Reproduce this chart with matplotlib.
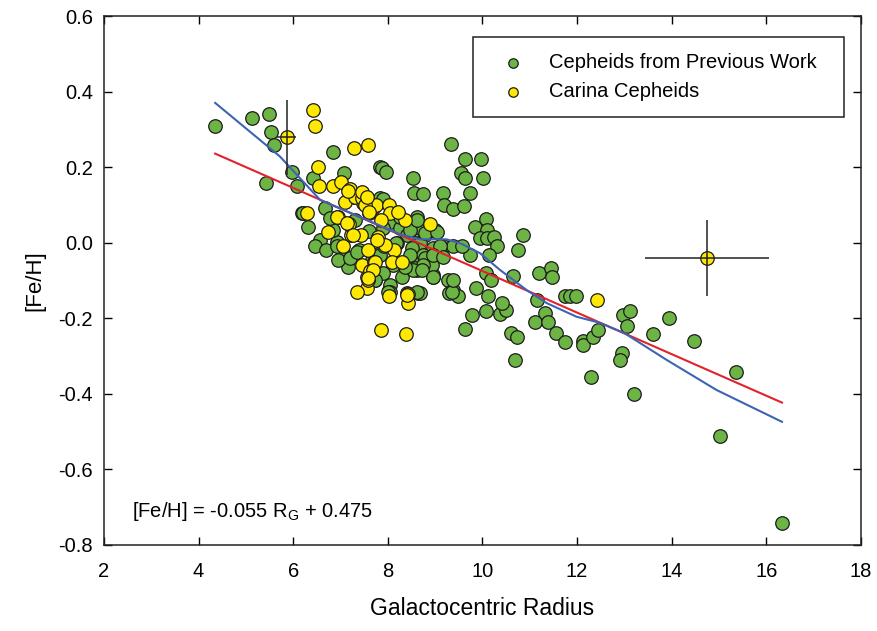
import matplotlib
matplotlib.use("Agg")
import matplotlib.pyplot as plt
from matplotlib.patches import Rectangle
import numpy as np

plt.rcParams['font.family'] = ['Liberation Sans', 'DejaVu Sans']

# Cepheids from previous work (green)
prev_x = [4.35, 5.13, 5.49, 5.52, 5.60, 5.42, 5.97, 6.07, 6.83, 7.07, 6.42, 6.18, 6.32, 6.67, 6.57, 6.45, 6.69,
          7.83, 7.87, 7.95,
          7.18, 7.71, 8.02, 8.64, 8.95, 8.92, 8.82, 9.28, 9.30, 9.17, 8.99,
          6.92, 6.83, 7.06, 7.83, 7.69, 8.05, 8.26, 8.61, 8.50, 8.64, 8.79, 8.40, 8.68, 8.50, 8.96, 9.38, 8.75,
          8.50, 8.43, 8.61, 8.96, 8.05, 7.73, 7.16, 6.95, 9.38, 8.05, 8.40, 8.68, 8.61, 8.57, 8.47, 8.79, 8.93,
          7.30, 7.60, 7.90, 8.20, 7.40, 8.10, 7.80, 8.30, 7.90,
          8.54, 8.56, 8.75, 9.16, 9.19, 9.33, 9.63, 9.97, 9.54, 9.62, 10.02, 9.74, 9.37, 9.61,
          10.07, 9.84, 10.09, 9.95, 10.10, 10.24, 10.31, 10.14, 9.74, 9.56,
          10.86, 10.76, 10.65, 11.20, 11.44, 11.46, 11.74, 11.85, 11.97, 11.16, 11.32, 11.11, 11.38,
          11.55, 11.74, 12.12, 12.13, 12.34, 12.45, 12.96, 13.12, 13.06, 12.95, 12.91, 13.95, 13.61, 14.46,
          12.29, 10.68, 10.61, 10.72, 9.63, 9.77, 10.07, 10.36, 10.50, 10.41, 9.86, 10.12, 9.49, 9.35, 9.38,
          10.07, 10.19, 13.21, 15.36, 15.03, 16.33,
          6.21, 6.78, 7.20, 7.34, 7.66, 7.83, 8.18, 8.47, 8.61, 8.79, 9.03, 9.10, 8.96, 8.75, 8.54, 8.36,
          8.72, 8.96, 9.17, 7.90, 8.26, 8.61, 8.01, 7.73, 6.92]
prev_y = [0.31, 0.33, 0.34, 0.292, 0.259, 0.159, 0.188, 0.150, 0.241, 0.184, 0.171, 0.079, 0.042, 0.092, 0.007, -0.01, -0.019,
          0.201, 0.197, 0.188,
          -0.04, -0.099, -0.125, -0.132, -0.09, -0.059, -0.063, -0.099, -0.134, -0.01, 0.034,
          0.003, 0.034, -0.028, 0.118, 0.091, 0.055, 0.038, 0.069, 0.047, 0.034, 0.021, 0.021, -0.002, -0.015, -0.015, -0.01, -0.032,
          -0.05, -0.068, -0.072, -0.085, -0.112, -0.099, -0.063, -0.046, -0.125, -0.13, -0.134, -0.134, 0.042, -0.068, -0.032, -0.041, -0.059,
          0.06, 0.03, 0.04, 0.0, -0.02, -0.06, -0.03, -0.09, -0.08,
          0.17, 0.131, 0.129, 0.131, 0.10, 0.26, 0.221, 0.221, 0.184, 0.171, 0.171, 0.131, 0.089, 0.098,
          0.062, 0.041, 0.034, 0.012, 0.012, 0.014, -0.008, -0.032, -0.032, -0.008,
          0.021, -0.019, -0.088, -0.081, -0.068, -0.091, -0.14, -0.14, -0.14, -0.152, -0.187, -0.209, -0.209,
          -0.24, -0.262, -0.26, -0.272, -0.25, -0.231, -0.191, -0.18, -0.22, -0.291, -0.31, -0.20, -0.241, -0.26,
          -0.356, -0.31, -0.24, -0.25, -0.229, -0.19, -0.18, -0.189, -0.178, -0.159, -0.12, -0.14, -0.14, -0.13, -0.10,
          -0.079, -0.10, -0.40, -0.341, -0.511, -0.741,
          0.079, 0.065, -0.041, -0.024, -0.046, -0.032, 0.0, 0.034, 0.06, 0.025, 0.029, -0.01, -0.032, -0.059, -0.072, -0.063,
          -0.072, -0.09, -0.037, 0.115, 0.069, -0.13, -0.13, -0.099, -0.01]

# Carina Cepheids (yellow)
carina_x = [6.42, 6.45, 7.29, 7.59, 6.53, 6.55, 6.83, 7.01, 6.30, 6.74,
            7.20, 7.28, 7.09, 7.48, 7.60, 7.74, 8.03, 8.05, 7.85, 8.36, 8.88, 7.06, 7.43, 7.22, 7.57, 7.45,
            7.71, 7.92, 8.14, 8.09, 8.29, 7.55, 7.55, 7.35, 8.03, 8.42, 8.43, 7.86, 8.38,
            7.31, 7.45, 7.52, 7.61, 8.22, 6.95, 7.18, 7.80, 7.94, 7.73, 7.62, 7.57, 12.41, 7.45, 7.55,
            7.16, 6.92, 7.13, 7.27, 7.76, 7.69, 7.59, 8.40]
carina_y = [0.35, 0.31, 0.25, 0.259, 0.20, 0.15, 0.15, 0.162, 0.079, 0.029,
            0.141, 0.120, 0.109, 0.104, 0.079, 0.10, 0.10, 0.079, 0.06, 0.06, 0.05, -0.008, 0.021, 0.021, -0.019, -0.059,
            -0.05, -0.008, -0.019, -0.05, -0.05, -0.09, -0.12, -0.131, -0.14, -0.136, -0.16, -0.231, -0.242,
            0.122, 0.118, 0.10, 0.081, 0.081, 0.069, 0.049, 0.014, -0.006, -0.05, -0.075, -0.099, -0.152, 0.135, 0.122,
            0.138, 0.069, 0.051, 0.021, 0.007, -0.072, -0.094, -0.138]

# Carina Cepheids with error bars
err_x = [5.86, 14.75]
err_y = [0.279, -0.041]
err_dx = [0.2, 1.31]
err_dy = [0.1, 0.1]

# smooth trend (blue)
trend_x = [4.35, 5.72, 6.57, 7.47, 8.26, 8.68, 9.24, 9.56, 9.95, 10.37, 10.93, 11.36, 11.99, 12.48, 13.01, 13.89, 14.95, 16.33]
trend_y = [0.37, 0.228, 0.113, 0.065, 0.022, 0.009, 0.009, -0.003, -0.028, -0.072, -0.125, -0.16, -0.196, -0.212, -0.24, -0.31, -0.39, -0.474]

# linear fit (red)
fit_slope = -0.055
fit_intercept = 0.475
fit_range = [4.35, 16.33]

x_ticks = [2, 4, 6, 8, 10, 12, 14, 16, 18]
y_ticks = [-0.8, -0.6, -0.4, -0.2, 0.0, 0.2, 0.4, 0.6]

W, H = 878, 631
fig = plt.figure(figsize=(W / 100, H / 100), dpi=100)
ax = fig.add_axes([104 / W, 1 - 545 / H, (861 - 104) / W, (545 - 16) / H])

green = '#6cb443'
yellow = '#ffe900'
edge = '#1c1c1c'

ax.scatter(prev_x, prev_y, s=95, c=green, edgecolors=edge, linewidths=0.9, zorder=3,
           label='Cepheids from Previous Work')
ax.scatter(carina_x, carina_y, s=95, c=yellow, edgecolors=edge, linewidths=0.9, zorder=4,
           label='Carina Cepheids')
ax.scatter(err_x, err_y, s=95, c=yellow, edgecolors=edge, linewidths=0.9, zorder=4)
ax.errorbar(err_x, err_y, xerr=err_dx, yerr=err_dy, fmt='none', ecolor='#222222', elinewidth=1.1,
            capsize=0, zorder=6)

fx = np.array(fit_range)
ax.plot(fx, fit_slope * fx + fit_intercept, color='#e2222b', lw=1.5, zorder=5)
ax.plot(trend_x, trend_y, color='#3d63b5', lw=1.5, zorder=5)

ax.set_xlim(2, 18)
ax.set_ylim(-0.8, 0.6)
ax.set_xticks(x_ticks)
ax.set_yticks(y_ticks)
ax.set_yticklabels([f'{v:.1f}' for v in y_ticks])
ax.tick_params(direction='in', length=6, width=1, top=True, right=True, labelsize=14.5)
ax.tick_params(axis='x', pad=12)
ax.tick_params(axis='y', pad=8)
for sp in ax.spines.values():
    sp.set_linewidth(1.1)
    sp.set_color('#222222')

ax.set_xlabel('Galactocentric Radius', fontsize=16.5, labelpad=12)
ax.set_ylabel('[Fe/H]', fontsize=16, labelpad=9)

ax.text(2.6, -0.712, r'[Fe/H] = -0.055 R$_\mathregular{G}$ + 0.475', fontsize=14.5, va='center', ha='left')

frame = Rectangle((473 / W, 1 - 117 / H), (844 - 473) / W, (117 - 37) / H, transform=fig.transFigure,
                  fill=True, facecolor='white', edgecolor='#222222', linewidth=1.1, zorder=7, clip_on=False)
ax.add_patch(frame)

leg = ax.legend(loc='upper left', bbox_to_anchor=(503 / W, 1 - 53 / H), bbox_transform=fig.transFigure,
                fontsize=14.5, frameon=False, markerscale=0.7,
                handletextpad=1.3, borderpad=0, borderaxespad=0, labelspacing=0.5, handlelength=1.0)
leg.set_zorder(8)

fig.savefig('out.png', dpi=100)
